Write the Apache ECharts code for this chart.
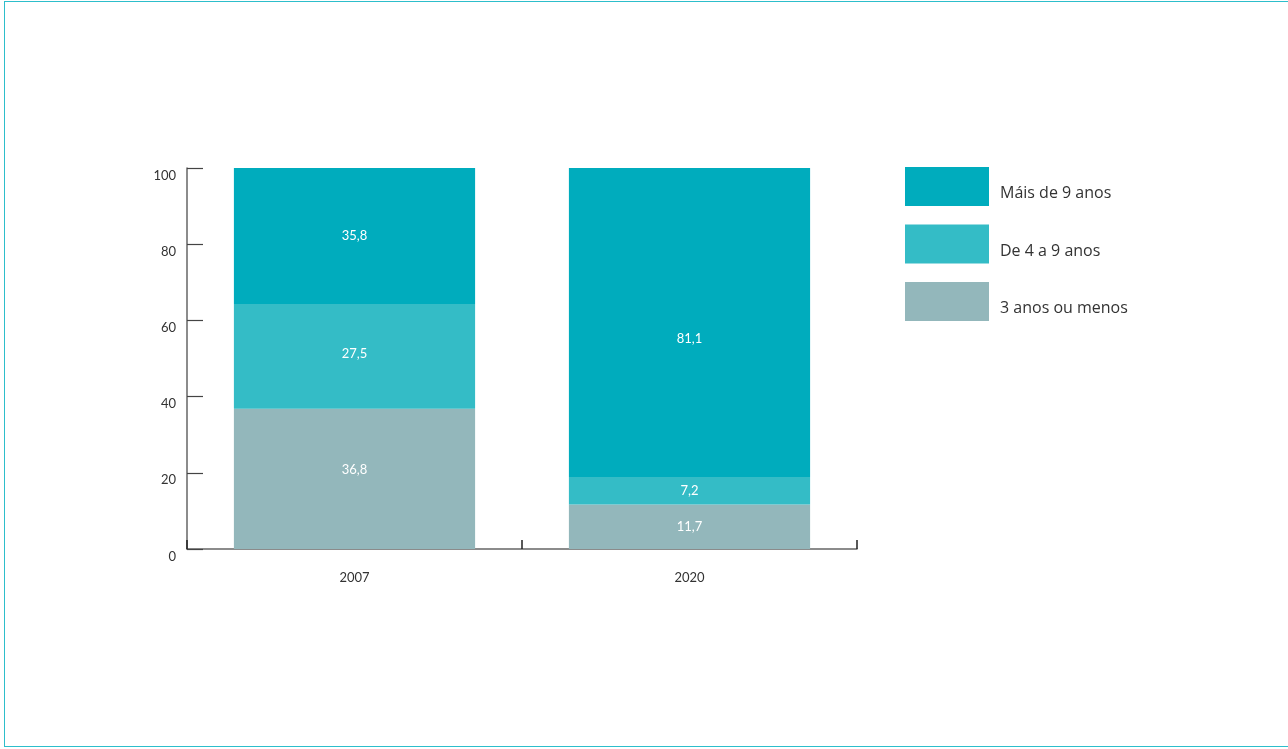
<!DOCTYPE html>
<html>
<head>
<meta charset="utf-8">
<script src="https://cdn.jsdelivr.net/npm/echarts@6/dist/echarts.min.js"></script>
<style>
  html, body { margin: 0; padding: 0; background: #fff; overflow: hidden; }
  #frame { position: absolute; left: 4px; top: 1px; width: 1320px; height: 746px; border: 1.5px solid #2dbecb; box-sizing: border-box; }
  #chart { position: absolute; left: 0; top: 0; width: 1288px; height: 749px; }
</style>
</head>
<body>
<div id="frame"></div>
<div id="chart"></div>
<script>
const categories = ['2007', '2020'];
const seriesNames = ['Máis de 9 anos', 'De 4 a 9 anos', '3 anos ou menos'];
const low = [36.8, 11.7];     // 3 anos ou menos
const mid = [27.5, 7.2];      // De 4 a 9 anos
const high = [35.8, 81.1];    // Máis de 9 anos
const yTicks = [0, 20, 40, 60, 80, 100];

const colors = { high: '#00acbd', mid: '#34bcc6', low: '#93b7bb' };
// label vertical nudges (style only), per category
const labelNudge = { low: [-9, 0], mid: [-3, 0], high: [0, 16] };

const chart = echarts.init(document.getElementById('chart'), null, { renderer: 'canvas' });

function seg(name, data, color, nudge) {
  return {
    name: name,
    type: 'bar',
    stack: 'total',
    data: data.map((v, i) => ({ value: v, label: { offset: [0, nudge[i]] } })),
    barWidth: '72%',
    itemStyle: { color: color },
    label: {
      show: true,
      position: 'inside',
      color: '#ffffff',
      fontFamily: 'Lato, "Noto Sans", sans-serif',
      fontSize: 13,
      formatter: p => String(p.value).replace('.', ',')
    },
    emphasis: { disabled: true }
  };
}

chart.setOption({
  animation: false,
  grid: { left: 187, right: 431, top: 168, bottom: 200, containLabel: false },
  legend: {
    orient: 'vertical',
    left: 905,
    top: 167,
    padding: 0,
    itemWidth: 84,
    itemHeight: 39,
    itemGap: 18.5,
    icon: 'rect',
    data: seriesNames,
    selectedMode: false,
    formatter: n => '{t|' + n + '}',
    textStyle: {
      color: '#333333',
      fontFamily: '"Open Sans", "Noto Sans", sans-serif',
      fontSize: 16,
      rich: {
        t: {
          color: '#333333',
          fontFamily: '"Open Sans", "Noto Sans", sans-serif',
          fontSize: 16,
          padding: [14, 0, 0, 6]
        }
      }
    }
  },
  xAxis: {
    type: 'category',
    data: categories,
    boundaryGap: true,
    axisLine: { show: true, lineStyle: { color: '#666666', width: 1.5 } },
    axisTick: { show: true, inside: true, length: 9, alignWithLabel: false, lineStyle: { color: '#222222', width: 1.5 } },
    axisLabel: { color: '#333333', fontSize: 13, margin: 22, fontFamily: 'Lato, "Noto Sans", sans-serif' }
  },
  yAxis: {
    type: 'value',
    min: yTicks[0],
    max: yTicks[yTicks.length - 1],
    interval: 20,
    splitLine: { show: false },
    axisLine: { show: true, lineStyle: { color: '#666666', width: 1.5 } },
    axisTick: { show: true, inside: true, length: 16, lineStyle: { color: '#444444', width: 1.2 } },
    axisLabel: {
      color: '#333333', fontSize: 13, margin: 11, verticalAlign: 'top', lineHeight: 15,
      fontFamily: 'Lato, "Noto Sans", sans-serif'
    }
  },
  series: [
    seg(seriesNames[2], low, colors.low, labelNudge.low),
    seg(seriesNames[1], mid, colors.mid, labelNudge.mid),
    seg(seriesNames[0], high, colors.high, labelNudge.high)
  ]
});
</script>
</body>
</html>
